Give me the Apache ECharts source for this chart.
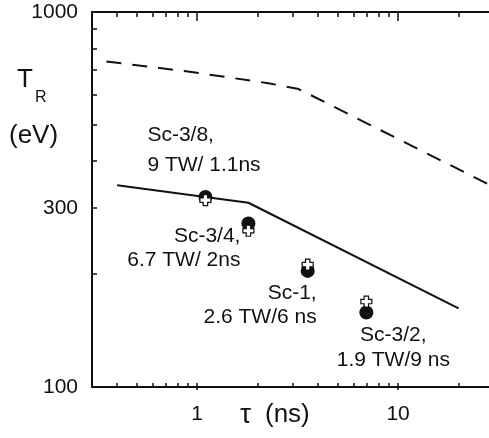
<!DOCTYPE html>
<html>
<head>
<meta charset="utf-8">
<title>T_R vs tau</title>
<script src="https://cdn.jsdelivr.net/npm/echarts@6/dist/echarts.min.js"></script>
<style>
  html, body { margin: 0; padding: 0; background: #fff; }
  #chart { width: 489px; height: 438px; }
</style>
</head>
<body>
<div id="chart"></div>
<script>
var FONT = '"Liberation Sans", Arial, Helvetica, sans-serif';
var INK = '#111';

// shots: pulse length tau (ns) and radiation temperature T_R (eV)
var shotTau = [1.1, 1.8, 3.55, 6.95];
var shotTr = [321, 273, 204, 158];
var crossTau = [1.1, 1.8, 3.55, 6.95];
var crossTr = [315, 261, 212, 169];
var shotNames = ['Sc-3/8,\n9 TW/ 1.1ns', 'Sc-3/4,\n6.7 TW/ 2ns', 'Sc-1,\n2.6 TW/6 ns', 'Sc-3/2,\n1.9 TW/9 ns'];

// curves
var solidTau = [0.4, 1.8, 20];
var solidTr = [345, 310, 162];
var dashTau = [0.354, 0.9, 2.26, 3.2, 28.5];
var dashTr = [738, 694, 646, 623, 346];

// ticks and labels
var xMinorTicks = [0.4, 0.5, 0.6, 0.7, 0.8, 0.9, 2, 3, 4, 5, 6, 7, 8, 9, 20];
var xMajorTicks = [1, 10];
var yTicks = [200, 300, 400, 500, 600, 700, 800, 900];
var yLabels = [100, 300, 1000];

// where each shot label sits relative to its marker
var labelStyle = [
    { offset: [-58, -47], align: 'left', lineHeight: 30 },
    { offset: [-8, 25], align: 'right', lineHeight: 24 },
    { offset: [9, 34], align: 'right', lineHeight: 24 },
    { offset: [27, 35], align: 'center', lineHeight: 25 }
];

function zip(a, b) {
    return a.map(function (v, i) { return [v, b[i]]; });
}

function plain(v) { return String(v); }

function xAx(pos, ticks, len, inside, line, labels) {
    return {
        type: 'log', position: pos, min: 0.3, max: 30,
        axisLine: { show: line, onZero: false, lineStyle: { color: INK, width: 2 } },
        axisTick: { show: true, customValues: ticks, length: len, inside: inside, lineStyle: { color: INK, width: 1.5 } },
        axisLabel: labels ? { show: true, customValues: labels, formatter: plain, margin: 17, fontSize: 21, fontFamily: FONT, color: INK } : { show: false },
        splitLine: { show: false }
    };
}

function yAx(pos, labels) {
    return {
        type: 'log', position: pos, min: 100, max: 1000,
        axisLine: { show: true, onZero: false, lineStyle: { color: INK, width: 2 } },
        axisTick: { show: true, customValues: yTicks, length: 5, inside: true, lineStyle: { color: INK, width: 1.5 } },
        axisLabel: labels ? { show: true, customValues: labels, formatter: plain, margin: 14, fontSize: 21, fontFamily: FONT, color: INK } : { show: false },
        splitLine: { show: false }
    };
}

var chart = echarts.init(document.getElementById('chart'));

var shotData = shotTau.map(function (t, i) {
    var s = labelStyle[i];
    return {
        value: [t, shotTr[i]],
        name: shotNames[i],
        label: {
            show: true, position: 'inside', offset: s.offset, align: s.align,
            verticalAlign: 'middle', lineHeight: s.lineHeight,
            formatter: '{b}', fontSize: 21, fontFamily: FONT, color: INK,
            textBorderWidth: 0
        }
    };
});

var option = {
    animation: false,
    grid: { left: 92, right: -5, top: 12, bottom: 51, outerBoundsMode: 'none' },
    xAxis: [
        xAx('bottom', xMinorTicks, 4, true, true, xMajorTicks),
        xAx('bottom', xMajorTicks, 4, true, false, null),
        xAx('bottom', xMajorTicks, 3, false, false, null),
        xAx('top', xMinorTicks, 5, true, true, null),
        xAx('top', xMajorTicks, 9, true, false, null)
    ],
    yAxis: [
        yAx('left', yLabels),
        yAx('right', null)
    ],
    graphic: [
        { type: 'text', left: 17, top: 67, style: { text: 'T', font: '26px ' + FONT, fill: INK } },
        { type: 'text', left: 35, top: 90, style: { text: 'R', font: '16px ' + FONT, fill: INK } },
        { type: 'text', left: 9, top: 123, style: { text: '(eV)', font: '26px ' + FONT, fill: INK } },
        { type: 'text', left: 240, top: 401, style: { text: 'τ', font: '28px ' + FONT, fill: INK } },
        { type: 'text', left: 265, top: 402, style: { text: '(ns)', font: '26px ' + FONT, fill: INK } }
    ],
    series: [
        {
            type: 'line', data: zip(solidTau, solidTr), symbol: 'none',
            lineStyle: { color: INK, width: 2 }, z: 2
        },
        {
            type: 'line', data: zip(dashTau, dashTr), symbol: 'none',
            lineStyle: { color: INK, width: 2, type: [15, 11] }, z: 2
        },
        {
            type: 'scatter', data: shotData, symbol: 'circle', symbolSize: 14,
            itemStyle: { color: INK, opacity: 1 }, z: 3
        },
        {
            type: 'scatter', data: zip(crossTau, crossTr),
            symbol: 'path://M3,0h4v3h3v4h-3v3h-4v-3h-3v-4h3z', symbolSize: 11,
            itemStyle: { color: '#fff', borderColor: INK, borderWidth: 1.2, opacity: 1 }, z: 4
        }
    ]
};

chart.setOption(option);
window.onresize = function () { chart.resize(); };
</script>
</body>
</html>
